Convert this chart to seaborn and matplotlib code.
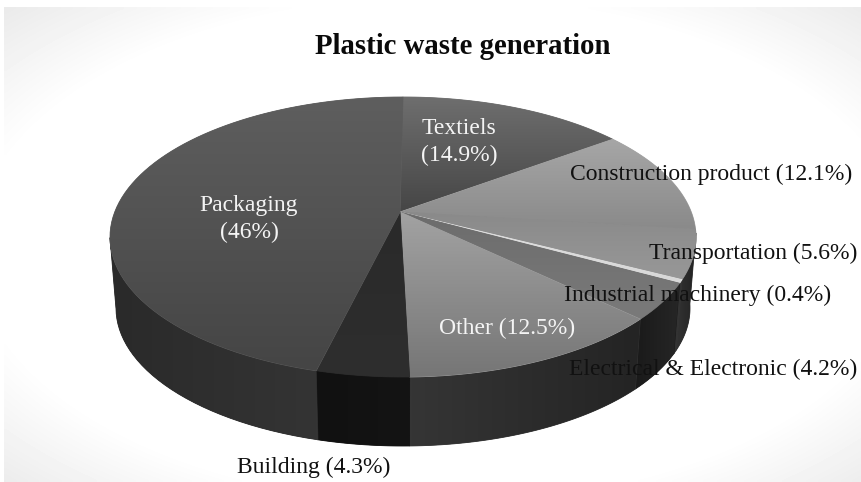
#!/usr/bin/env python3
import numpy as np
import matplotlib
matplotlib.use('Agg')
import matplotlib.pyplot as plt
import seaborn as sns

# clockwise from 12 o'clock
labels = ['Textiels', 'Construction product', 'Transportation', 'Industrial machinery',
          'Electrical & Electronic', 'Other', 'Building', 'Packaging']
shares = [14.9, 12.1, 5.6, 0.4, 4.2, 12.5, 4.3, 46]
share_text = ['14.9%', '12.1%', '5.6%', '0.4%', '4.2%', '12.5%', '4.3%', '46%']

# (upper, lower) grey of every top face, (left, right) grey of every wall
top_colors = [('#6e6e6e', '#464646'), ('#a6a6a6', '#8a8a8a'), ('#8a8a8a', '#989898'), ('#e0e0e0', '#d8d8d8'),
              ('#6c6c6c', '#7a7a7a'), ('#a2a2a2', '#767676'), ('#2a2a2a', '#2e2e2e'), ('#5e5e5e', '#454545')]
wall_colors = [('#333333', '#333333'), ('#333333', '#333333'), ('#333333', '#222222'), ('#333333', '#333333'),
               ('#1a1a1a', '#262626'), ('#353535', '#242424'), ('#111111', '#141414'), ('#2a2a2a', '#343434')]

sns.set_theme(style='white')
plt.rcParams['font.family'] = ['Liberation Serif', 'DejaVu Serif']

# pie geometry in pixels, the view is tilted so the apex is not the ellipse centre
cx, cy, a, b = 403, 237, 293, 140
cy2, a2, b2 = 308, 287, 138
apex = (400, 212)
tilt = 0.0907j


def view_angle(pct):
    # clockwise degrees from the top, through the perspective of the tilted disc
    z = np.exp(1j * np.radians(90 - np.asarray(pct) * 3.6))
    w = (z + tilt) / (1 + np.conj(tilt) * z)
    return np.unwrap(np.pi / 2 - np.angle(w))


def shaded_fill(ax, x, y, colors, zorder, horizontal=False):
    # flat fill keeps the soft edge, the clipped image on top gives the gradient
    poly = ax.fill(x, y, color=colors[0], lw=0.6, zorder=zorder)[0]
    cmap = sns.blend_palette(colors, as_cmap=True)
    grad = np.linspace(0, 1, 64)
    grad = grad[None, :] if horizontal else grad[:, None]
    im = ax.imshow(grad, extent=[x.min(), x.max(), y.max(), y.min()], cmap=cmap, vmin=0, vmax=1,
                   aspect='auto', interpolation='bilinear', zorder=zorder)
    im.set_clip_path(poly)


fig = plt.figure(figsize=(8.62, 4.82), dpi=100)
ax = fig.add_axes([0, 0, 1, 1])
ax.axis('off')

# pale vignette in the corners, the picture has a thin white margin top and left
xx, yy = np.meshgrid(np.linspace(4, 862, 215), np.linspace(7, 482, 120))
fade = np.clip((np.hypot((xx - 440) / 440, (yy - 250) / 240) - 1.05) / 0.36, 0, 1)
ax.imshow(1 - 0.08 * fade, extent=[4, 862, 482, 7], cmap='gray', vmin=0, vmax=1,
          aspect='auto', interpolation='bilinear', zorder=0)

edges = np.concatenate([[0], np.cumsum(shares)])
for i in range(len(shares)):
    t = view_angle(np.linspace(edges[i], edges[i + 1], 80))
    t = np.where(t < 0, t + 2 * np.pi, t)
    x = cx + a * np.sin(t)
    y = cy - b * np.cos(t)
    shaded_fill(ax, np.r_[apex[0], x], np.r_[apex[1], y], top_colors[i], 3)
    # wall is only seen on the near half
    keep = (t > np.pi * 0.49) & (t < np.pi * 1.51)
    if keep.sum() > 1:
        t2 = t[keep]
        xa = cx + a * np.sin(t2)
        ya = cy - b * np.cos(t2)
        xb = cx + a2 * np.sin(t2)
        yb = cy2 - b2 * np.cos(t2)
        shaded_fill(ax, np.r_[xa, xb[::-1]], np.r_[ya, yb[::-1]], wall_colors[i], 2, horizontal=True)

ax.set_xlim(0, 862)
ax.set_ylim(482, 0)

ax.text(462.5, 47, 'Plastic waste generation', fontsize=20.7, fontweight='bold', ha='center', va='center', color='#0a0a0a', zorder=5)
ax.text(459, 129, labels[0], fontsize=17, ha='center', va='center', color='#f4f4f4', zorder=5)
ax.text(459, 155, '(' + share_text[0] + ')', fontsize=17, ha='center', va='center', color='#f4f4f4', zorder=5)
ax.text(249, 206, labels[7], fontsize=17, ha='center', va='center', color='#f4f4f4', zorder=5)
ax.text(249, 232, '(' + share_text[7] + ')', fontsize=17, ha='center', va='center', color='#f4f4f4', zorder=5)
pos = {1: (711, 174, '#111111'), 2: (753.5, 253, '#111111'), 3: (698, 295, '#111111'),
       4: (713, 369, '#111111'), 5: (507, 328, '#f4f4f4'), 6: (314, 467, '#111111')}
for i, (x, y, c) in pos.items():
    ax.text(x, y, labels[i] + ' (' + share_text[i] + ')', fontsize=17, ha='center', va='center', color=c, zorder=5)

fig.savefig('out.png', dpi=100)
